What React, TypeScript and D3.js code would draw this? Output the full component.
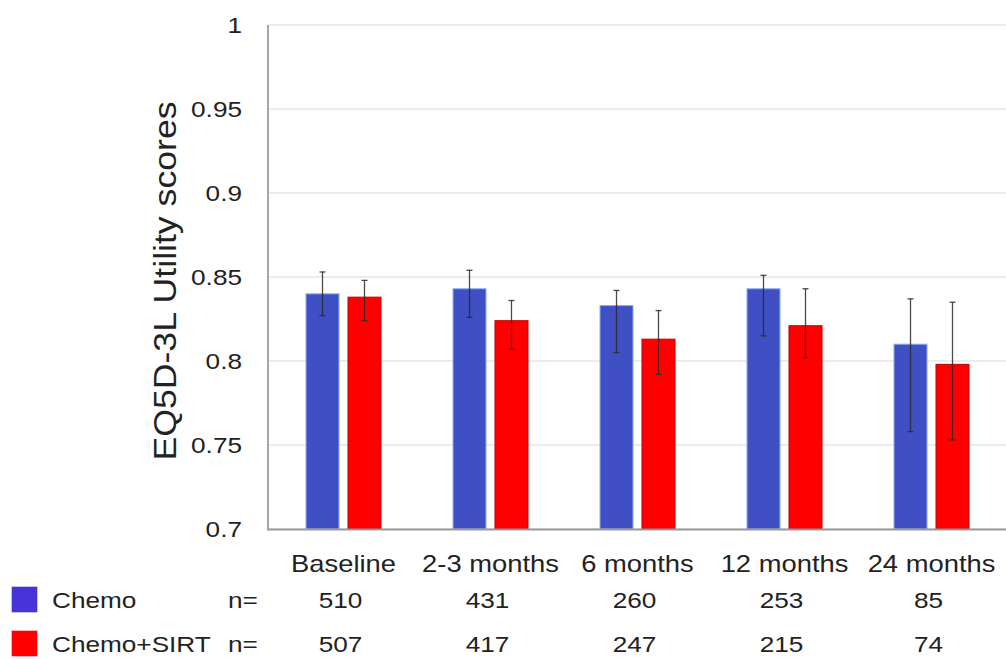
import React from "react";
import * as d3 from "d3";

const categories = ["Baseline", "2-3 months", "6 months", "12 months", "24 months"];
const seriesNames = ["Chemo", "Chemo+SIRT"];
const chemoValues = [0.840, 0.843, 0.833, 0.843, 0.810];
const chemoLow = [0.827, 0.826, 0.805, 0.815, 0.758];
const chemoHigh = [0.853, 0.854, 0.842, 0.851, 0.837];
const sirtValues = [0.838, 0.824, 0.813, 0.821, 0.798];
const sirtLow = [0.824, 0.807, 0.792, 0.802, 0.753];
const sirtHigh = [0.848, 0.836, 0.830, 0.843, 0.835];
const chemoN = [510, 431, 260, 253, 85];
const sirtN = [507, 417, 247, 215, 74];
const yTicks = [0.7, 0.75, 0.8, 0.85, 0.9, 0.95, 1];

const W = 1006;
const H = 659;
const FONT = "'Liberation Sans', Arial, sans-serif";
const SX = 1.19;

export default function App() {
  const x0 = d3.scaleBand<string>().domain(categories).range([270, 1005]).paddingInner(0);
  const x1 = d3.scaleBand<string>().domain(seriesNames).range([-37.5, 37.5]).paddingInner(0.214);
  const y = d3.scaleLinear().domain([0.7, 1]).range([529, 25]);
  const fmt = (v: number) => (v === 1 ? "1" : d3.format("")(+v.toFixed(2)));

  const series = [
    { name: "Chemo", values: chemoValues, low: chemoLow, high: chemoHigh, fill: "#3e50c4", stroke: "#8eaef0", legend: "#4634d8", n: chemoN },
    { name: "Chemo+SIRT", values: sirtValues, low: sirtLow, high: sirtHigh, fill: "#ff0000", stroke: "#c00000", legend: "#ff0000", n: sirtN },
  ];

  const rowY = [608, 652];

  return (
    <div style={{ position: "fixed", left: 0, top: 0, width: W, height: H, overflow: "hidden" }}>
      <svg width={W} height={H} style={{ display: "block", background: "#fff", fontFamily: FONT }}>
        {/* gridlines */}
        {yTicks.map((t) => (
          <line key={"g" + t} x1={268} x2={W} y1={y(t)} y2={y(t)} stroke="#d9d9d9" strokeWidth={1} />
        ))}
        {/* y tick labels */}
        {yTicks.map((t) => (
          <text
            key={"t" + t}
            transform={`translate(242,${y(t)}) scale(${SX},1)`}
            textAnchor="end"
            dominantBaseline="central"
            fontSize={22}
            fill="#222"
          >
            {fmt(t)}
          </text>
        ))}
        {/* y title */}
        <text
          transform={`translate(176,281) rotate(-90) scale(1.15,1)`}
          textAnchor="middle"
          fontSize={31}
          fill="#222"
        >
          EQ5D-3L Utility scores
        </text>
        {/* bars */}
        {series.map((s) =>
          categories.map((c, i) => {
            const bx = (x0(c) as number) + x0.bandwidth() / 2 + (x1(s.name) as number);
            return (
              <rect
                key={s.name + c}
                x={bx}
                y={y(s.values[i])}
                width={x1.bandwidth()}
                height={y(0.7) - y(s.values[i])}
                fill={s.fill}
                stroke={s.stroke}
                strokeWidth={1}
              />
            );
          })
        )}
        {/* error bars */}
        {series.map((s) =>
          categories.map((c, i) => {
            const cx = (x0(c) as number) + x0.bandwidth() / 2 + (x1(s.name) as number) + x1.bandwidth() / 2;
            return (
              <g key={"e" + s.name + c} stroke="#2a2a2a" strokeWidth={1.3} strokeOpacity={0.85}>
                <line x1={cx} x2={cx} y1={y(s.high[i])} y2={y(s.low[i])} />
                <line x1={cx - 3} x2={cx + 3} y1={y(s.high[i])} y2={y(s.high[i])} />
                <line x1={cx - 3} x2={cx + 3} y1={y(s.low[i])} y2={y(s.low[i])} />
              </g>
            );
          })
        )}
        {/* axes */}
        <line x1={268} x2={268} y1={25} y2={530} stroke="#a6a6a6" strokeWidth={2} />
        <line x1={267} x2={W} y1={529.5} y2={529.5} stroke="#9a9a9a" strokeWidth={2} />
        {/* category labels */}
        {categories.map((c) => (
          <text
            key={"c" + c}
            transform={`translate(${(x0(c) as number) + x0.bandwidth() / 2},572) scale(${SX},1)`}
            textAnchor="middle"
            fontSize={23}
            fill="#222"
          >
            {c}
          </text>
        ))}
        {/* legend + n rows */}
        {series.map((s, r) => (
          <g key={"l" + s.name}>
            <rect x={12} y={rowY[r] - 21} width={25} height={25} fill={s.legend} stroke={s.legend} strokeOpacity={0.6} />
            <text transform={`translate(52,${rowY[r]}) scale(${SX},1)`} fontSize={22} fill="#222">
              {s.name}
            </text>
            <text transform={`translate(228,${rowY[r]}) scale(${SX},1)`} fontSize={22} fill="#222">
              n=
            </text>
            {categories.map((c, i) => (
              <text
                key={"n" + c}
                transform={`translate(${(x0(c) as number) + x0.bandwidth() / 2 - 3},${rowY[r]}) scale(${SX},1)`}
                textAnchor="middle"
                fontSize={22}
                fill="#222"
              >
                {s.n[i]}
              </text>
            ))}
          </g>
        ))}
      </svg>
    </div>
  );
}
